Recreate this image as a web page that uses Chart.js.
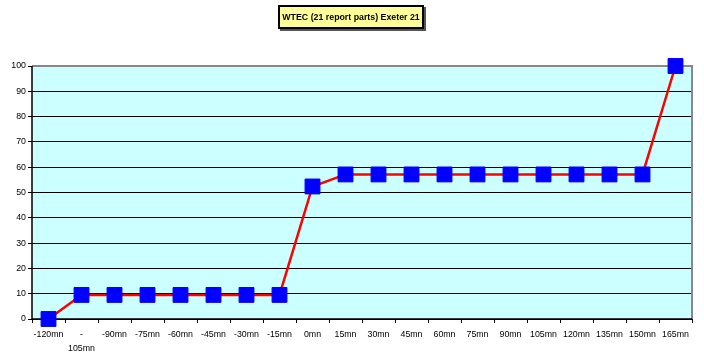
<!DOCTYPE html>
<html>
<head>
<meta charset="utf-8">
<script src="https://cdn.jsdelivr.net/npm/chart.js@4"></script>
<style>
html, body { margin: 0; padding: 0; background: #fff; }
#wrap { position: relative; width: 704px; height: 356px; }
#title {
  position: absolute; left: 278px; top: 5px; width: 142px; height: 20px;
  background: #FFFF99; border: 2px solid #000; box-shadow: 2px 2px 0 #555;
  font: bold 8.8px "Liberation Sans", Arial, sans-serif; color: #000;
  display: flex; align-items: center; justify-content: center; white-space: nowrap;
}
</style>
</head>
<body>
<div id="wrap">
  <canvas id="c" width="704" height="356"></canvas>
  <div id="title">WTEC (21 report parts) Exeter 21</div>
</div>
<script>
// categories (minutes relative to start)
const labels = ['-120mn', ['-', '105mn'], '-90mn', '-75mn', '-60mn', '-45mn', '-30mn', '-15mn',
  '0mn', '15mn', '30mn', '45mn', '60mn', '75mn', '90mn', '105mn', '120mn', '135mn', '150mn', '165mn'];
// percentage of report parts received
const values = [0, 9.52, 9.52, 9.52, 9.52, 9.52, 9.52, 9.52,
  52.38, 57.14, 57.14, 57.14, 57.14, 57.14, 57.14, 57.14, 57.14, 57.14, 57.14, 100];
const yTicks = [0, 10, 20, 30, 40, 50, 60, 70, 80, 90, 100];

const font = { family: '"Liberation Sans", Arial, sans-serif', size: 8.8 };

// plot area background + excel style border
const plotFrame = {
  id: 'plotFrame',
  beforeDraw(chart) {
    const { ctx, chartArea: a } = chart;
    ctx.save();
    ctx.fillStyle = '#CCFFFF';
    ctx.fillRect(a.left, a.top, a.right - a.left, a.bottom - a.top);
    ctx.restore();
  },
  beforeDatasetsDraw(chart) {
    const { ctx, chartArea: a } = chart;
    ctx.save();
    ctx.strokeStyle = '#888';
    ctx.lineWidth = 2;
    ctx.beginPath();
    ctx.moveTo(a.left, a.top);
    ctx.lineTo(a.right, a.top);
    ctx.lineTo(a.right, a.bottom);
    ctx.stroke();
    ctx.strokeStyle = '#000';
    ctx.lineWidth = 1.5;
    ctx.beginPath();
    ctx.moveTo(a.left, a.top);
    ctx.lineTo(a.left, a.bottom);
    ctx.lineTo(a.right, a.bottom);
    ctx.stroke();
    ctx.restore();
  }
};

new Chart(document.getElementById('c'), {
  type: 'line',
  data: {
    labels: labels,
    datasets: [{
      data: values,
      borderColor: '#FF0000',
      borderWidth: 2.5,
      pointStyle: 'rect',
      pointRadius: 10.5,
      pointBackgroundColor: '#0000FF',
      pointBorderColor: '#0000FF',
      pointBorderWidth: 1,
      tension: 0,
      clip: false
    }]
  },
  options: {
    responsive: false,
    animation: false,
    layout: { padding: { left: 0, right: 12, top: 66, bottom: 0 } },
    plugins: { legend: { display: false }, title: { display: false }, tooltip: { enabled: false } },
    scales: {
      x: {
        offset: true,
        grid: { offset: true, drawOnChartArea: false, drawTicks: true, tickLength: 4, color: '#000', lineWidth: 1 },
        border: { display: false },
        ticks: { font: Object.assign({}, font, { lineHeight: 1.55 }), color: '#000', maxRotation: 0, autoSkip: false, padding: 5 },
        afterFit(s) { s.height = 37; }
      },
      y: {
        min: 0, max: 100,
        afterBuildTicks(s) { s.ticks = yTicks.map(v => ({ value: v })); },
        grid: { color: '#000', lineWidth: 1, tickLength: 4 },
        border: { display: false },
        ticks: { font: font, color: '#000', padding: 2 },
        afterFit(s) { s.width = 32; }
      }
    }
  },
  plugins: [plotFrame]
});
</script>
</body>
</html>
